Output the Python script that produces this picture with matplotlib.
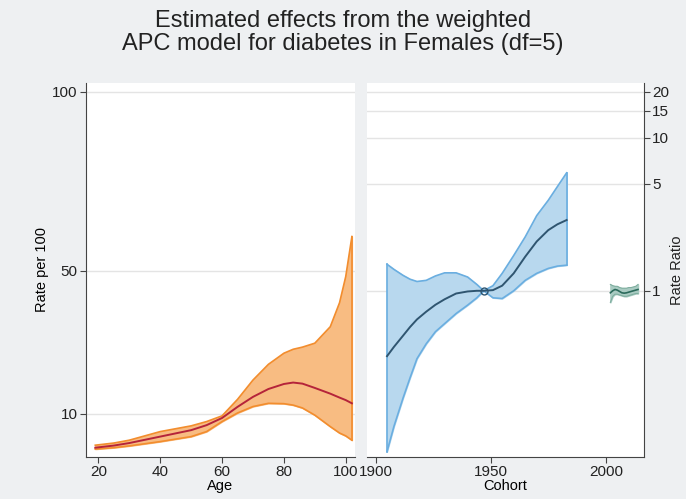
import matplotlib.pyplot as plt
import numpy as np

age = [19, 25, 30, 35, 40, 45, 50, 55, 60, 65, 70, 75, 80, 83, 86, 90, 95, 98, 100, 102]
age_mid = [0.5, 1.1, 1.8, 2.7, 3.6, 4.5, 5.4, 6.8, 8.8, 11.9, 14.7, 16.9, 18.3, 18.7, 18.4, 17.2, 15.6, 14.5, 13.8, 12.9]
age_hi = [1.2, 1.8, 2.6, 3.8, 5.0, 5.8, 6.6, 7.8, 9.4, 14.0, 19.4, 23.8, 26.9, 28.0, 28.6, 29.7, 34.3, 41.0, 48.3, 59.5]
age_lo = [0.1, 0.5, 1.0, 1.6, 2.2, 2.9, 3.6, 5.0, 7.8, 10.2, 12.0, 12.9, 12.8, 12.4, 11.6, 9.6, 6.4, 4.6, 3.8, 2.6]

cohort = [1905, 1908, 1912, 1915, 1918, 1922, 1926, 1930, 1935, 1940, 1944, 1947, 1951, 1955, 1960, 1965, 1970, 1975, 1979, 1983]
coh_mid = [0.374, 0.43, 0.51, 0.58, 0.65, 0.73, 0.81, 0.88, 0.96, 0.99, 1.0, 1.0, 1.01, 1.08, 1.3, 1.67, 2.1, 2.49, 2.72, 2.9]
coh_hi = [1.49, 1.38, 1.26, 1.19, 1.15, 1.17, 1.25, 1.31, 1.31, 1.23, 1.1, 1.0, 1.08, 1.3, 1.7, 2.25, 3.1, 3.9, 4.8, 5.9]
coh_lo = [0.089, 0.13, 0.2, 0.27, 0.36, 0.45, 0.54, 0.61, 0.71, 0.806, 0.9, 1.0, 0.9, 0.89, 1.0, 1.17, 1.3, 1.4, 1.45, 1.47]

period = [2002, 2003, 2004, 2005, 2006, 2007, 2008, 2009, 2010, 2011, 2012, 2013, 2014]
per_mid = [0.97, 1.0, 1.02, 1.01, 0.99, 0.97, 0.965, 0.97, 0.98, 0.99, 1.0, 1.01, 1.02]
per_hi = [1.1, 1.08, 1.07, 1.07, 1.05, 1.04, 1.04, 1.04, 1.05, 1.05, 1.06, 1.07, 1.1]
per_lo = [0.84, 0.92, 0.95, 0.95, 0.94, 0.93, 0.92, 0.92, 0.93, 0.94, 0.95, 0.96, 0.96]

bg = '#eef0f2'
plt.rcParams['font.family'] = ['Liberation Sans', 'DejaVu Sans']
fig = plt.figure(figsize=(6.86, 4.99), dpi=100, facecolor=bg)
fig.text(0.5, 0.935, 'Estimated effects from the weighted\nAPC model for diabetes in Females (df=5)',
         ha='center', va='center', fontsize=17, color='#222222', linespacing=1.1)

ax1 = fig.add_axes([86 / 686, 1 - 457 / 499, 269 / 686, 374 / 499])
ax1.fill_between(age, age_lo, age_hi, color='#f8bc82', zorder=2)
ax1.plot(age, age_hi, color='#f28d2e', lw=1.2, zorder=3)
ax1.plot(age, age_lo, color='#f28d2e', lw=1.2, zorder=3)
ax1.plot([age[-1], age[-1]], [age_lo[-1], age_hi[-1]], color='#f28d2e', lw=1.2, zorder=3)
ax1.plot(age, age_mid, color='#b5243a', lw=1.4, zorder=4)
ax1.set_xlim(16, 103)
ax1.set_ylim(-2.1, 102.4)
ax1.set_xticks([20, 40, 60, 80, 100])
ax1.set_yticks([10, 50, 100])
ax1.set_xlabel('Age', fontsize=10.5, labelpad=0)
ax1.set_ylabel('Rate per 100', fontsize=10.5, labelpad=2)

ax2 = fig.add_axes([367 / 686, 1 - 457 / 499, 277 / 686, 374 / 499])
ax2.set_yscale('log')
ax2.fill_between(cohort, coh_lo, coh_hi, color='#b8d8ee', zorder=2)
ax2.plot(cohort, coh_hi, color='#6aaee0', lw=1.2, zorder=3)
ax2.plot(cohort, coh_lo, color='#6aaee0', lw=1.2, zorder=3)
for c in (0, -1):
    ax2.plot([cohort[c]] * 2, [coh_lo[c], coh_hi[c]], color='#6aaee0', lw=1.2, zorder=3)
ax2.plot(cohort, coh_mid, color='#2f5570', lw=1.4, zorder=4)
ax2.plot([1947], [1.0], 'o', mfc='none', mec='#2f5570', ms=5, zorder=5)
ax2.fill_between(period, per_lo, per_hi, color='#a9cbc2', zorder=2)
ax2.plot(period, per_hi, color='#7fae9f', lw=0.8, zorder=3)
ax2.plot(period, per_lo, color='#7fae9f', lw=0.8, zorder=3)
ax2.plot(period, per_mid, color='#2c6b5c', lw=1.2, zorder=4)
ax2.set_xlim(1896.3, 2016.6)
ax2.set_ylim(0.082, 22.8)
ax2.set_xticks([1900, 1950, 2000])
ax2.set_yticks([1, 5, 10, 15, 20])
ax2.set_yticklabels(['1', '5', '10', '15', '20'])
ax2.minorticks_off()
ax2.yaxis.tick_right()
ax2.set_xlabel('Cohort', fontsize=10.5, labelpad=0)
fig.text(677 / 686, 1 - 270 / 499, 'Rate Ratio', rotation=90, ha='center', va='center',
         fontsize=10.5, color='#222222')

for ax, side in ((ax1, 'left'), (ax2, 'right')):
    ax.set_facecolor('white')
    for s in ax.spines.values():
        s.set_visible(False)
    ax.spines['bottom'].set_visible(True)
    ax.spines[side].set_visible(True)
    ax.spines['bottom'].set_color('#444444')
    ax.spines[side].set_color('#444444')
    ax.grid(axis='y', color='#e4e4e4', lw=1, zorder=0)
    ax.set_axisbelow(True)
    ax.tick_params(labelsize=11, length=4, color='#444444', labelcolor='#222222', pad=2)

fig.savefig('out.png', dpi=100, facecolor=bg)
